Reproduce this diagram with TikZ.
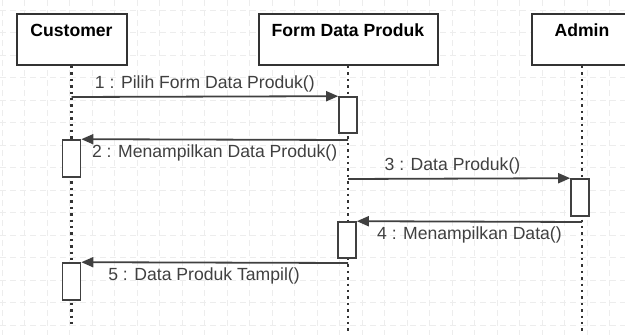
\documentclass[tikz,border=0pt]{standalone}
\usepackage{fontspec}
\setmainfont{Liberation Sans}
\usetikzlibrary{arrows.meta}

\tikzset{
	actor/.style={draw=black!80, line width=1pt, fill=white, minimum width=#1,
		minimum height=25.5pt, inner ysep=0pt, text height=11.5pt, text depth=14pt,
		font=\fontsize{8.8}{10}\selectfont\bfseries},
	act/.style={draw=black!75, line width=0.8pt, fill=white, minimum width=9pt,
		minimum height=#1, inner sep=0pt},
	life/.style={black!80, line width=1.2pt, dotted},
	msg/.style={black!75, line width=0.9pt, -{Triangle[length=6pt,width=5pt]}},
	lbl/.style={text=black!75, inner sep=2pt, font=\fontsize{8.8}{10}\selectfont},
	gridline/.style={black!7, line width=0.3pt, densely dashed}
}

\begin{document}
\begin{tikzpicture}[x=0.5pt, y=-0.5pt]
	\useasboundingbox (0,0) rectangle (625,335);
	\clip (0,0) rectangle (625,335);
	% background grid
	\foreach \gx in {2,24.5,...,625} \draw [gridline] (\gx,0) -- (\gx,335);
	\foreach \gy in {10,32.5,...,335} \draw [gridline] (0,\gy) -- (625,\gy);

	\node [actor=55pt] (H1) at (71.5,39.5) {Customer};
	\node [actor=89.5pt] (H2) at (348,39.5) {Form Data Produk};
	\node [actor=50pt] (H3) at (582,39.5) {Admin};
	\coordinate (L1) at (71.5,328);
	\coordinate (L2) at (348,335);
	\coordinate (L3) at (582,335);
	\draw [life] (H1.south) -- (L1);
	\draw [life] (H2.south) -- (L2);
	\draw [life] (H3.south) -- (L3);

	\node [act=18pt] (A1) at (348,115) {};
	\node [act=18.5pt] (A2) at (71.5,158.5) {};
	\node [act=18.5pt] (A3) at (580,197.5) {};
	\node [act=18pt] (A4) at (347,240) {};
	\node [act=18.5pt] (A5) at (71.5,281.5) {};

	\coordinate (m1) at (71.5,97);
	\coordinate (m2) at (348,140);
	\coordinate (m3) at (348,179);
	\coordinate (m4) at (582,222);
	\coordinate (m5) at (348,263);
	\draw [msg] (m1) -- node [lbl, above] {1 : Pilih Form Data Produk()} (A1.north west);
	\draw [msg] (m2) -- node [lbl, below] {2 : Menampilkan Data Produk()} (A2.north east);
	\draw [msg] (m3) -- node [lbl, above, pos=0.47] {3 : Data Produk()} (A3.north west);
	\draw [msg] (m4) -- node [lbl, below] {4 : Menampilkan Data()} (A4.north east);
	\draw [msg] (m5) -- node [lbl, below, pos=0.54] {5 : Data Produk Tampil()} (A5.north east);
\end{tikzpicture}
\end{document}
